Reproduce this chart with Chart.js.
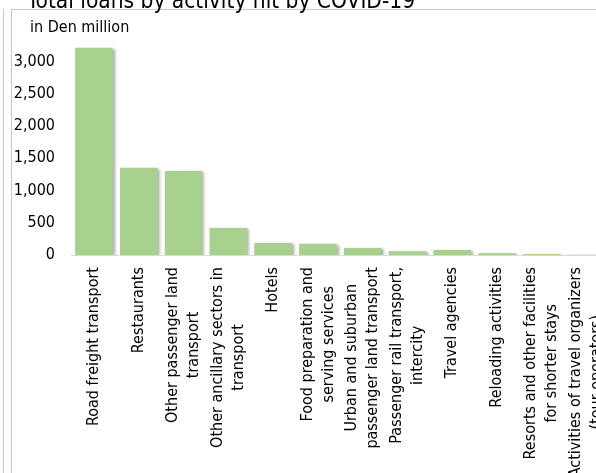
<!DOCTYPE html>
<html>
<head>
<meta charset="utf-8">
<script src="https://cdn.jsdelivr.net/npm/chart.js@4.4.1/dist/chart.umd.min.js"></script>
<style>
  html, body { margin: 0; padding: 0; background: #fff; }
  #wrap { position: relative; width: 596px; height: 473px; overflow: hidden; background: #fff; }
  #c { position: absolute; left: 0; top: 0; }
  .vline { position: absolute; width: 1px; background: #c8c8c8; }
  .hline { position: absolute; height: 1px; background: #c8c8c8; }
  #title { position: absolute; left: 27px; top: -12px; font: 22.5px "DejaVu Sans Condensed", "DejaVu Sans", sans-serif; font-stretch: condensed; line-height: 24px; color: #000; white-space: nowrap; }
  #unit { position: absolute; left: 30px; top: 18px; font: 16px "DejaVu Sans Condensed", "DejaVu Sans", sans-serif; font-stretch: condensed; line-height: 18px; color: #000; white-space: nowrap; }
</style>
</head>
<body>
<div id="wrap">
  <canvas id="c" width="640" height="473" style="width:640px;height:473px"></canvas>
  <div class="vline" style="left:3px;top:9px;height:464px"></div>
  <div class="vline" style="left:11px;top:9px;height:464px"></div>
  <div class="hline" style="left:11px;top:9px;width:585px"></div>
  <div id="title">Total loans by activity hit by COVID-19</div>
  <div id="unit">in Den million</div>
</div>
<script>
const categories = [
  ["Road freight transport"],
  ["Restaurants"],
  ["Other passenger land", "transport"],
  ["Other ancillary sectors in", "transport"],
  ["Hotels"],
  ["Food preparation and", "serving services"],
  ["Urban and suburban", "passenger land transport"],
  ["Passenger rail transport,", "intercity"],
  ["Travel agencies"],
  ["Reloading activities"],
  ["Resorts and other facilities", "for shorter stays"],
  ["Activities of travel organizers", "(tour operators)"]
];
const loans = [3210, 1353, 1301, 417, 185, 175, 108, 57, 77, 26, 15, 5];
const yTicks = [0, 500, 1000, 1500, 2000, 2500, 3000];

const FONT = '"DejaVu Sans Condensed", "DejaVu Sans", sans-serif';

const shadowPlugin = {
  id: 'barShadow',
  beforeDatasetsDraw(chart) {
    const ctx = chart.ctx;
    ctx.save();
    ctx.shadowColor = 'rgba(0,0,0,0.35)';
    ctx.shadowBlur = 3;
    ctx.shadowOffsetX = 2;
    ctx.shadowOffsetY = 1;
  },
  afterDatasetsDraw(chart) {
    chart.ctx.restore();
  }
};

const xLabelPlugin = {
  id: 'xLabels',
  afterDraw(chart) {
    const ctx = chart.ctx;
    const xs = chart.scales.x;
    const top = chart.chartArea.bottom + 12;
    const lineH = 21;
    ctx.save();
    ctx.font = '16px ' + FONT;
    ctx.fillStyle = '#000';
    ctx.textAlign = 'center';
    ctx.textBaseline = 'middle';
    categories.forEach((lines, i) => {
      const x = xs.getPixelForValue(i);
      const maxW = Math.max(...lines.map(l => ctx.measureText(l).width));
      ctx.save();
      ctx.translate(x, top);
      ctx.rotate(-Math.PI / 2);
      const n = lines.length;
      lines.forEach((l, j) => {
        ctx.fillText(l, -maxW / 2, (j - (n - 1) / 2) * lineH);
      });
      ctx.restore();
    });
    ctx.restore();
  }
};

new Chart(document.getElementById('c'), {
  type: 'bar',
  data: {
    labels: categories.map(c => c.join(' ')),
    datasets: [{
      data: loans,
      backgroundColor: '#A9D18E',
      borderWidth: 0,
      barPercentage: 0.84,
      categoryPercentage: 1.0
    }]
  },
  options: {
    responsive: false,
    animation: false,
    devicePixelRatio: 1,
    layout: { padding: { top: 42, right: 31, left: 0, bottom: 0 } },
    plugins: { legend: { display: false }, tooltip: { enabled: false }, title: { display: false } },
    scales: {
      x: {
        grid: { display: false },
        border: { display: true, color: '#d9d9d9', width: 1 },
        ticks: { display: false },
        afterFit(scale) { scale.height = 218; }
      },
      y: {
        min: 0,
        max: 3300,
        grid: { display: false, drawTicks: false },
        border: { display: false },
        afterBuildTicks(scale) { scale.ticks = yTicks.map(v => ({ value: v })); },
        afterFit(scale) { scale.width = 71.6; },
        ticks: {
          padding: 16.6,
          color: '#000',
          font: { family: FONT, size: 16 },
          callback: v => v.toLocaleString('en-US')
        }
      }
    }
  },
  plugins: [shadowPlugin, xLabelPlugin]
});
</script>
</body>
</html>
